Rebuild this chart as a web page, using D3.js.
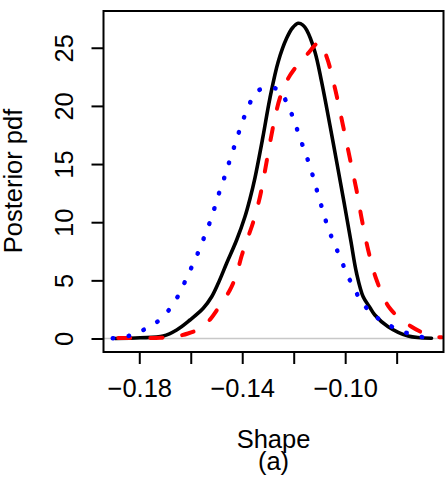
<!DOCTYPE html>
<html>
<head>
<meta charset="utf-8">
<script src="https://cdn.jsdelivr.net/npm/d3@7"></script>
<style>
  html, body { margin: 0; padding: 0; background: #fff; }
  svg { display: block; }
  text { font-family: "Liberation Sans", Arial, sans-serif; fill: #000; }
</style>
</head>
<body>
<svg id="chart" width="445" height="480"></svg>
<script>
// ---- data ----
const xTicks = [-0.18, -0.16, -0.14, -0.12, -0.10, -0.08];
const xTickLabels = ["−0.18", "", "−0.14", "", "−0.10", ""];
const yTicks = [0, 5, 10, 15, 20, 25];
const yTickLabels = ["0", "5", "10", "15", "20", "25"];
const xTitle = "Shape";
const subTitle = "(a)";
const yTitle = "Posterior pdf";

// black solid
const blackShape = [-0.18944, -0.17973, -0.17068, -0.16548, -0.16031, -0.15515, -0.15188, -0.14932, -0.14606, -0.14217,
  -0.13895, -0.13701, -0.13507, -0.13196, -0.12925, -0.12602, -0.12276, -0.1205, -0.11825, -0.11643,
  -0.11499, -0.11177, -0.10917, -0.10594, -0.10272, -0.10012, -0.09779, -0.09557, -0.09301, -0.09041,
  -0.08847, -0.0833, -0.07553, -0.06645];
const blackPdf = [0.0, 0.06, 0.21, 0.73, 1.59, 2.60, 3.59, 4.75, 6.47, 8.47,
  10.47, 12.0, 13.80, 17.33, 20.65, 23.80, 25.81, 26.7, 27.10, 26.95,
  26.53, 24.66, 22.08, 18.36, 14.49, 11.31, 8.38, 5.61, 3.59, 2.67,
  2.02, 1.01, 0.21, 0.02];

// red dashed
const redShape = [-0.18816, -0.17196, -0.16614, -0.16109, -0.15643, -0.15254, -0.14866, -0.14478, -0.14245, -0.14012,
  -0.13817, -0.13584, -0.13313, -0.13118, -0.12924, -0.1273, -0.12536, -0.12214, -0.11953, -0.1172,
  -0.11476, -0.11138, -0.11002, -0.10722, -0.104, -0.10089, -0.09779, -0.09546, -0.09363, -0.09107,
  -0.0878, -0.08264, -0.07421, -0.06645, -0.06257];
const redPdf = [0.04, 0.06, 0.17, 0.43, 0.86, 1.63, 2.84, 4.17, 5.37, 7.18,
  8.47, 9.93, 12.17, 14.40, 16.81, 18.96, 20.68, 22.37, 23.23, 23.88,
  24.44, 25.30, 25.49, 24.23, 21.54, 18.36, 15.09, 12.60, 10.36, 7.61,
  5.03, 2.60, 1.01, 0.21, 0.10];

// blue dotted
const blueShape = [-0.1903, -0.1839, -0.1785, -0.1730, -0.1685, -0.1651, -0.1623, -0.1597, -0.1571, -0.1548,
  -0.1525, -0.1506, -0.1487, -0.1467, -0.1448, -0.1428, -0.1409, -0.1388, -0.1362, -0.1339,
  -0.1316, -0.1292, -0.1269, -0.1256, -0.1224, -0.1200, -0.1180, -0.1159, -0.1138, -0.1120,
  -0.1103, -0.1085, -0.1067, -0.1044, -0.1019, -0.0995, -0.0967, -0.0936, -0.0894, -0.0843,
  -0.0786, -0.0727, -0.0665];
const bluePdf = [0.02, 0.24, 0.73, 1.44, 2.45, 3.59, 4.86, 6.12, 7.41, 8.7,
  10.05, 11.34, 12.71, 14.0, 15.35, 16.70, 18.0, 19.3, 20.6, 21.3,
  21.5, 21.6, 21.5, 21.4, 20.14, 18.85, 17.53, 16.21, 14.89, 13.54,
  12.2, 10.86, 9.54, 8.24, 6.94, 5.64, 4.38, 3.17, 2.11, 1.31,
  0.70, 0.24, 0.0];

// ---- layout ----
const svg = d3.select("#chart");
const L = 103.5, R = 443.5, T = 11, B = 352;
const x = d3.scaleLinear().domain([-0.1939, -0.0618]).range([L, R]);
const y = d3.scaleLinear().domain([-1.16, 28.16]).range([B, T]);
const fs = 25.5;

svg.append("defs").append("clipPath").attr("id", "plotclip")
  .append("rect").attr("x", L).attr("y", T).attr("width", R - L).attr("height", B - T);

const plot = svg.append("g").attr("clip-path", "url(#plotclip)");

// horizontal reference line at 0
plot.append("line")
  .attr("x1", L).attr("x2", R)
  .attr("y1", y(0)).attr("y2", y(0))
  .attr("stroke", "#c8c8c8").attr("stroke-width", 1.3);

const line = d3.line().curve(d3.curveCatmullRom.alpha(0.5));
function pts(xs, ys) { return xs.map((v, i) => [x(v), y(ys[i])]); }

plot.append("path").attr("d", line(pts(blackShape, blackPdf)))
  .attr("fill", "none").attr("stroke", "#000").attr("stroke-width", 3.6)
  .attr("stroke-linejoin", "round").attr("stroke-linecap", "round");

plot.append("path").attr("d", line(pts(redShape, redPdf)))
  .attr("fill", "none").attr("stroke", "#ff0000").attr("stroke-width", 4)
  .attr("stroke-dasharray", "12,20").attr("stroke-linecap", "round");

plot.append("path").attr("d", line(pts(blueShape, bluePdf)))
  .attr("fill", "none").attr("stroke", "#0000ff").attr("stroke-width", 4.5)
  .attr("stroke-dasharray", "0.5,15.5").attr("stroke-linecap", "round");

// box
svg.append("rect").attr("x", L).attr("y", T).attr("width", R - L).attr("height", B - T)
  .attr("fill", "none").attr("stroke", "#000").attr("stroke-width", 2);

// x axis
const xAxis = d3.axisBottom(x).tickValues(xTicks).tickSize(12).tickPadding(0)
  .tickFormat((d, i) => xTickLabels[i]);
const gx = svg.append("g").attr("transform", `translate(0,${B})`).call(xAxis);
gx.select(".domain").remove();
gx.selectAll(".tick line").attr("stroke", "#000").attr("stroke-width", 2);
gx.selectAll(".tick text").attr("font-size", fs).attr("font-family", "Liberation Sans, Arial, sans-serif")
  .attr("y", 45).attr("dy", null).attr("fill", "#000");

// y axis
const yAxis = d3.axisLeft(y).tickValues(yTicks).tickSize(12).tickPadding(0)
  .tickFormat((d, i) => yTickLabels[i]);
const gy = svg.append("g").attr("transform", `translate(${L},0)`).call(yAxis);
gy.select(".domain").remove();
gy.selectAll(".tick line").attr("stroke", "#000").attr("stroke-width", 2);
gy.selectAll(".tick text")
  .attr("font-size", fs).attr("font-family", "Liberation Sans, Arial, sans-serif")
  .attr("x", null).attr("dy", null).attr("fill", "#000")
  .attr("text-anchor", "middle")
  .attr("transform", "translate(-31,0) rotate(-90)");

// titles
svg.append("text").attr("x", (L + R) / 2).attr("y", 448).attr("text-anchor", "middle")
  .attr("font-size", fs).text(xTitle);
svg.append("text").attr("x", (L + R) / 2).attr("y", 470).attr("text-anchor", "middle")
  .attr("font-size", fs).text(subTitle);
svg.append("text").attr("transform", `translate(22,181) rotate(-90)`).attr("text-anchor", "middle")
  .attr("font-size", fs).text(yTitle);
</script>
</body>
</html>
